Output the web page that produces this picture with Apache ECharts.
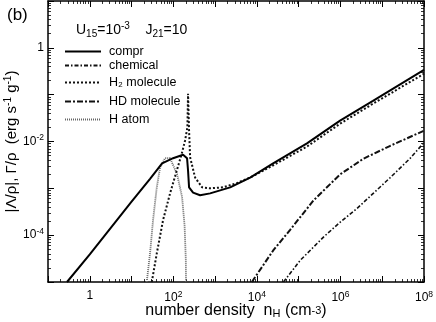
<!DOCTYPE html>
<html>
<head>
<meta charset="utf-8">
<script src="https://cdn.jsdelivr.net/npm/echarts@6/dist/echarts.min.js"></script>
<style>
  html, body { margin: 0; padding: 0; background: #fff; }
  #chart { width: 436px; height: 322px; }
</style>
</head>
<body>
<div id="chart"></div>
<script>
// number density nH (cm^-3) and rate per mass (erg s^-1 g^-1)
const nH_compr = [0.285, 1, 10, 27.7, 53.8, 98.6, 171, 213, 225, 238, 297, 437, 759, 2290, 6890, 24500, 1.58e5, 9.8e5, 6.0e6, 1.0e8];
const L_compr  = [1e-5, 3.9e-5, 5.2e-4, 1.6e-3, 3.4e-3, 4.4e-3, 5.2e-3, 4.4e-3, 2.4e-3, 1.05e-3, 8.1e-4, 7.1e-4, 7.8e-4, 1.05e-3, 1.7e-3, 3.4e-3, 9.1e-3, 2.8e-2, 7.4e-2, 0.34];

const nH_chem = [43300, 1.09e5, 3.93e5, 9.9e5, 2.48e6, 6.1e6, 1.56e7, 4.7e7, 1.0e8];
const L_chem  = [1e-5, 2.9e-5, 9.1e-5, 1.9e-4, 3.7e-4, 7.8e-4, 1.7e-3, 4.4e-3, 9.5e-3];

const nH_H2 = [30.5, 40.2, 56.8, 83.5, 121, 159, 191, 217, 225, 238, 252, 332, 489, 759, 1560, 3370, 6890, 24500, 1.58e5, 9.8e5, 6.0e6, 1.0e8];
const L_H2  = [1e-5, 4.1e-5, 2.1e-4, 7.8e-4, 2.4e-3, 5.5e-3, 1.05e-2, 2.0e-2, 0.105, 1.7e-2, 4.6e-3, 1.7e-3, 1.05e-3, 1.0e-3, 1.05e-3, 1.3e-3, 1.7e-3, 3.1e-3, 7.8e-3, 2.4e-2, 6.4e-2, 0.28];

const nH_HD = [7570, 24900, 62500, 2.26e5, 9.9e5, 3.56e6, 1.56e7, 1.0e8];
const L_HD  = [1e-5, 4.8e-5, 1.3e-4, 5.5e-4, 2.0e-3, 4.3e-3, 8.1e-3, 1.7e-2];

const nH_Hatom = [23.1, 27.7, 32.7, 40.2, 48.2, 63.4, 83.5, 123, 162, 186, 199, 201];
const L_Hatom  = [1e-5, 4.1e-5, 2.1e-4, 1.05e-3, 2.8e-3, 4.4e-3, 4.4e-3, 2.0e-3, 6.5e-4, 1.6e-4, 3.0e-5, 1e-5];

const seriesNames = ['compr', 'chemical', 'H₂ molecule', 'HD molecule', 'H atom'];

const FONT = 'Liberation Sans';
const X_MIN = 0.1, X_MAX = 1e8, Y_MIN = 1e-5, Y_MAX = 10;

function pairs(xs, ys) {
  return xs.map((x, i) => [x, ys[i]]);
}

// 2..9 x 10^k between lo and hi, for the small log ticks
function minorValues(lo, hi) {
  let out = [];
  for (let e = Math.round(Math.log10(lo)); e < Math.round(Math.log10(hi)); e++) {
    for (let m = 2; m <= 9; m++) out.push(m * Math.pow(10, e));
  }
  return out;
}

// only even decades get a label, like the original
function decadeLabel(value) {
  let e = Math.round(Math.log10(value));
  if (e % 2 !== 0) return '';
  if (e === 0) return '{b|1}';
  return '{b|10}{s|' + e + '}';
}

const tickRich = {
  b: { fontSize: 12, fontFamily: FONT, color: '#000' },
  s: { fontSize: 8.5, fontFamily: FONT, color: '#000', verticalAlign: 'top', padding: [0, 0, 7, 0] }
};

const chart = echarts.init(document.getElementById('chart'), null, { renderer: 'canvas' });

function frameAxis(extra) {
  return Object.assign({
    type: 'log',
    logBase: 10,
    axisLine: { show: true, lineStyle: { color: '#000', width: 1.5 } },
    axisTick: { show: true, inside: true, length: 6, lineStyle: { color: '#000', width: 1 } },
    splitLine: { show: false },
    minorTick: { show: false },
    minorSplitLine: { show: false }
  }, extra);
}

function minorAxis(extra, lo, hi) {
  return frameAxis(Object.assign({
    axisLine: { show: false },
    axisLabel: { show: false },
    axisTick: { show: true, inside: true, length: 3, customValues: minorValues(lo, hi), lineStyle: { color: '#000', width: 0.8 } }
  }, extra));
}

const lineStyles = [
  { color: '#000', width: 2, type: 'solid' },
  { color: '#111', width: 1.6, type: [4, 2, 1.5, 2] },
  { color: '#111', width: 2, type: [2, 2] },
  { color: '#111', width: 2, type: [6, 2, 2, 2] },
  { color: '#666', width: 1.8, type: [1, 1] }
];
const dataSets = [
  pairs(nH_compr, L_compr),
  pairs(nH_chem, L_chem),
  pairs(nH_H2, L_H2),
  pairs(nH_HD, L_HD),
  pairs(nH_Hatom, L_Hatom)
];
const legendTops = [40, 54, 71, 90, 108];

const option = {
  animation: false,
  backgroundColor: '#fff',
  title: [
    { text: '(b)', left: 2, top: 2, textStyle: { fontSize: 17, fontWeight: 'normal', fontFamily: FONT, color: '#000' } },
    {
      text: 'U{sub|15}=10{sup|-3}    J{sub|21}=10',
      left: 71, top: 16,
      textStyle: {
        fontSize: 14, fontWeight: 'normal', fontFamily: FONT, color: '#000',
        rich: {
          sub: { fontSize: 10, fontFamily: FONT, color: '#000', verticalAlign: 'bottom', padding: [4, 0, 0, 0] },
          sup: { fontSize: 10, fontFamily: FONT, color: '#000', verticalAlign: 'top', padding: [0, 0, 8, 0] }
        }
      }
    }
  ],
  legend: seriesNames.map((name, i) => ({
    data: [name],
    orient: 'vertical',
    left: 59,
    top: legendTops[i],
    itemWidth: 36,
    itemHeight: 14,
    selectedMode: false,
    itemStyle: { opacity: 0 },
    textStyle: { fontSize: 12.5, fontFamily: FONT, color: '#000', padding: [0, 0, 0, 3] }
  })),
  grid: { left: 48, right: 12, top: 1, bottom: 40, outerBoundsMode: 'none', containLabel: false },
  xAxis: [
    frameAxis({
      min: X_MIN, max: X_MAX, splitNumber: 9,
      name: 'number density  n{sub|H} (cm{sup|-3})',
      nameLocation: 'middle', nameGap: 21, nameMoveOverlap: false,
      nameTextStyle: {
        fontSize: 16, fontFamily: FONT, color: '#000',
        rich: {
          sub: { fontSize: 11, fontFamily: FONT, color: '#000', verticalAlign: 'bottom', padding: [5, 0, 0, 0] },
          sup: { fontSize: 11, fontFamily: FONT, color: '#000' }
        }
      },
      axisLabel: { show: true, margin: 8, formatter: decadeLabel, rich: tickRich }
    }),
    frameAxis({ min: X_MIN, max: X_MAX, splitNumber: 9, position: 'top', axisLabel: { show: false } }),
    minorAxis({ min: X_MIN, max: X_MAX, position: 'bottom' }, X_MIN, X_MAX),
    minorAxis({ min: X_MIN, max: X_MAX, position: 'top' }, X_MIN, X_MAX)
  ],
  yAxis: [
    frameAxis({
      min: Y_MIN, max: Y_MAX, splitNumber: 6,
      name: '|Λ/ρ|, Γ/ρ  (erg s{sup|-1} g{sup|-1})',
      nameLocation: 'middle', nameGap: 27, nameRotate: 90, nameMoveOverlap: false,
      nameTextStyle: {
        fontSize: 15, fontFamily: FONT, color: '#000',
        rich: {
          sup: { fontSize: 10, fontFamily: FONT, color: '#000', verticalAlign: 'top', padding: [0, 0, 8, 0] }
        }
      },
      axisLabel: { show: true, margin: 4, formatter: decadeLabel, rich: tickRich }
    }),
    frameAxis({ min: Y_MIN, max: Y_MAX, splitNumber: 6, position: 'right', axisLabel: { show: false } }),
    minorAxis({ min: Y_MIN, max: Y_MAX, position: 'left' }, Y_MIN, Y_MAX),
    minorAxis({ min: Y_MIN, max: Y_MAX, position: 'right' }, Y_MIN, Y_MAX)
  ],
  series: seriesNames.map((name, i) => ({
    name: name,
    type: 'line',
    xAxisIndex: 0,
    yAxisIndex: 0,
    symbol: 'none',
    smooth: false,
    clip: true,
    color: lineStyles[i].color,
    lineStyle: lineStyles[i],
    z: 5 - i,
    data: dataSets[i]
  }))
};

chart.setOption(option);
</script>
</body>
</html>
